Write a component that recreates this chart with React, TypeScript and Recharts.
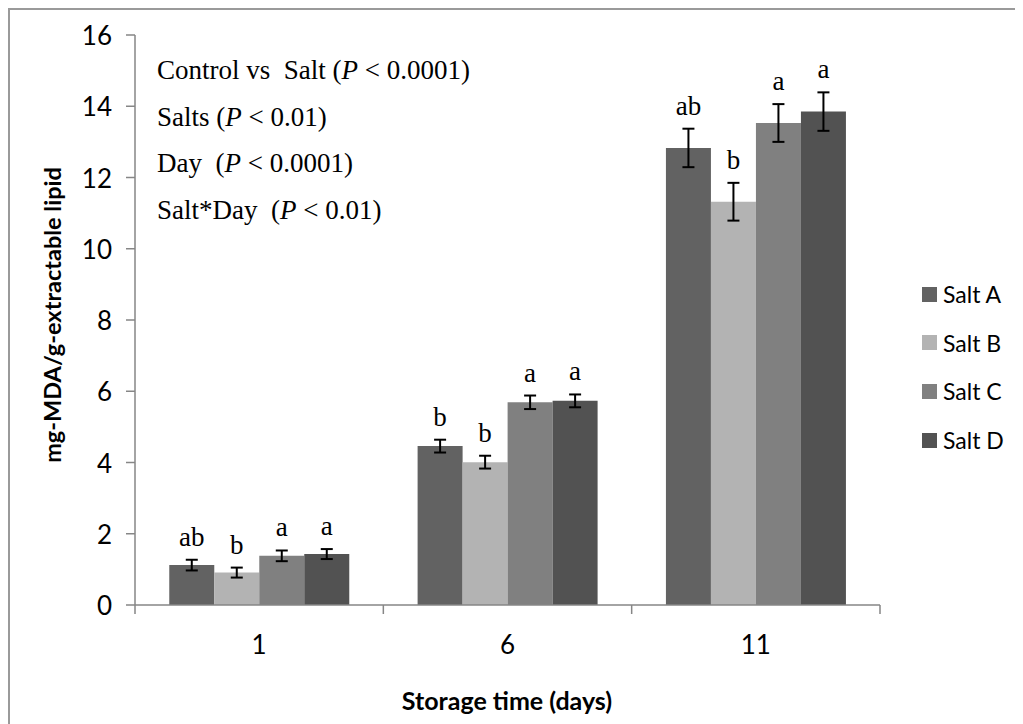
import React from 'react';
import { BarChart, Bar, XAxis, YAxis, ErrorBar, LabelList } from 'recharts';

// storage days and the four salts
const days = ['1', '6', '11'];
const saltNames = ['Salt A', 'Salt B', 'Salt C', 'Salt D'];
const saltKeys = ['A', 'B', 'C', 'D'];
const saltColors = ['#626262', '#b3b3b3', '#808080', '#525252'];

// mg-MDA/g-extractable lipid, mean and error per day
const saltA = [1.12, 4.46, 12.83];
const saltB = [0.91, 4.01, 11.32];
const saltC = [1.38, 5.69, 13.53];
const saltD = [1.43, 5.73, 13.85];
const saltAErr = [0.15, 0.18, 0.54];
const saltBErr = [0.14, 0.18, 0.53];
const saltCErr = [0.15, 0.19, 0.53];
const saltDErr = [0.14, 0.18, 0.54];

// significance letters
const saltALetters = ['ab', 'b', 'ab'];
const saltBLetters = ['b', 'b', 'b'];
const saltCLetters = ['a', 'a', 'a'];
const saltDLetters = ['a', 'a', 'a'];

const yTicks = [0, 2, 4, 6, 8, 10, 12, 14, 16];

const yTitle = 'mg-MDA/g-extractable lipid';
const xTitle = 'Storage time (days)';

const statLines = [
    { pre: 'Control vs\u00a0\u00a0Salt (', post: ' < 0.0001)' },
    { pre: 'Salts (', post: ' < 0.01)' },
    { pre: 'Day\u00a0\u00a0(', post: ' < 0.0001)' },
    { pre: 'Salt*Day\u00a0\u00a0(', post: ' < 0.01)' },
];

const values = [saltA, saltB, saltC, saltD];
const errs = [saltAErr, saltBErr, saltCErr, saltDErr];
const letters = [saltALetters, saltBLetters, saltCLetters, saltDLetters];

const rows = days.map((day, i) => {
    const row: any = { day };
    saltKeys.forEach((k, s) => {
        row[k] = values[s][i];
        row[k + 'Err'] = errs[s][i];
        row[k + 'Letter'] = letters[s][i];
    });
    return row;
});

const sansFont = 'Lato, "Open Sans", sans-serif';
const serifFont = '"Liberation Serif", "Times New Roman", serif';
const axisGray = '#868686';

const LetterLabel = (props: any, key: string) => {
    const { x, y, width, height, index, value } = props;
    const row = rows[index];
    if (!row) return null;
    const perUnit = Number(height) / row[key];
    const errTop = Number(y) - row[key + 'Err'] * perUnit;
    return (
        <text
            x={Number(x) + Number(width) / 2}
            y={errTop - 14}
            textAnchor="middle"
            fontFamily={serifFont}
            fontSize={27}
            fill="#000"
        >
            {value}
        </text>
    );
};

// category label in the middle, tick marks on the band edges (like Excel)
const DayTick = (props: any) => {
    const { x, y, payload, index, visibleTicksCount } = props;
    const half = payload && payload.offset ? payload.offset : 124;
    const last = index === (visibleTicksCount || days.length) - 1;
    return (
        <g>
            <line x1={x - half} x2={x - half} y1={y} y2={y + 9} stroke={axisGray} strokeWidth={1.5} />
            {last && <line x1={x + half} x2={x + half} y1={y} y2={y + 9} stroke={axisGray} strokeWidth={1.5} />}
            <text x={x} y={y + 49} textAnchor="middle" fontFamily={sansFont} fontSize={26} fill="#000">
                {payload.value}
            </text>
        </g>
    );
};

const ValueTick = (props: any) => {
    const { x, y, payload } = props;
    return (
        <text x={x} y={y} textAnchor="end" dominantBaseline="central" fontFamily={sansFont} fontSize={26} fill="#000">
            {payload.value}
        </text>
    );
};

export default function App() {
    return (
        <div
            style={{
                position: 'relative',
                width: 1015,
                height: 716,
                boxSizing: 'border-box',
                borderLeft: '2px solid #9a9a9a',
                borderTop: '2px solid #9a9a9a',
                background: '#fff',
            }}
        >
            <BarChart
                width={1013}
                height={714}
                data={rows}
                margin={{ top: 25, right: 143, left: 10, bottom: 19 }}
                barCategoryGap="13.8%"
                barGap={0}
            >
                <XAxis
                    dataKey="day"
                    interval={0}
                    tick={<DayTick />}
                    tickLine={false}
                    tickSize={0}
                    tickMargin={0}
                    height={100}
                    axisLine={{ stroke: axisGray, strokeWidth: 1.5 }}
                />
                <YAxis
                    type="number"
                    domain={[0, 16]}
                    ticks={yTicks}
                    interval={0}
                    width={115}
                    tickSize={9}
                    tickMargin={14}
                    tick={<ValueTick />}
                    axisLine={{ stroke: axisGray, strokeWidth: 1.5 }}
                    tickLine={{ stroke: axisGray, strokeWidth: 1.5 }}
                />
                {saltKeys.map((k, s) => (
                    <Bar key={k} dataKey={k} name={saltNames[s]} fill={saltColors[s]} isAnimationActive={false}>
                        <ErrorBar
                            dataKey={k + 'Err'}
                            direction="y"
                            width={6}
                            stroke="#000"
                            strokeWidth={2}
                            isAnimationActive={false}
                        />
                        <LabelList dataKey={k + 'Letter'} content={(p: any) => LetterLabel(p, k)} />
                    </Bar>
                ))}
            </BarChart>

            {/* axis titles and statistics text */}
            <svg
                width={1013}
                height={714}
                style={{ position: 'absolute', left: 0, top: 0, pointerEvents: 'none' }}
            >
                <text
                    x={42}
                    y={305}
                    transform="rotate(-90 42 305)"
                    textAnchor="middle"
                    dominantBaseline="central"
                    fontFamily={sansFont}
                    fontWeight={700}
                    fontSize={23.5}
                    fill="#000"
                >
                    {yTitle}
                </text>
                <text x={497} y={700} textAnchor="middle" fontFamily={sansFont} fontWeight={700} fontSize={25} fill="#000">
                    {xTitle}
                </text>
                {statLines.map((l, i) => (
                    <text key={i} x={147} y={69 + i * 46.5} fontFamily={serifFont} fontSize={27} fill="#000">
                        {l.pre}
                        <tspan fontStyle="italic">P</tspan>
                        {l.post}
                    </text>
                ))}
            </svg>

            {/* legend */}
            <div style={{ position: 'absolute', left: 912, top: 270 }}>
                {saltNames.map((n, s) => (
                    <div
                        key={n}
                        style={{
                            position: 'absolute',
                            top: s * 48.7,
                            left: 0,
                            display: 'flex',
                            alignItems: 'center',
                            height: 28,
                            whiteSpace: 'nowrap',
                        }}
                    >
                        <span style={{ display: 'inline-block', width: 15, height: 15, background: saltColors[s] }} />
                        <span style={{ marginLeft: 6, fontFamily: sansFont, fontSize: 23, color: '#000' }}>{n}</span>
                    </div>
                ))}
            </div>
        </div>
    );
}
